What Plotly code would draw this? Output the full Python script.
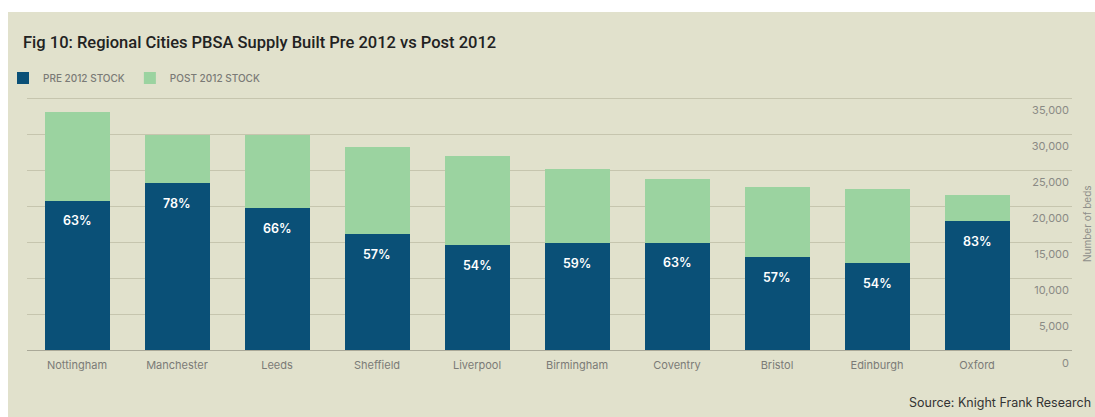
import plotly.graph_objects as go

# ---- data ----
cities = ["Nottingham", "Manchester", "Leeds", "Sheffield", "Liverpool",
          "Birmingham", "Coventry", "Bristol", "Edinburgh", "Oxford"]
pre_2012_stock = [20800, 23200, 19700, 16100, 14600, 14850, 14900, 12930, 12100, 17930]
post_2012_stock = [12300, 6700, 10200, 12100, 12400, 10350, 8850, 9770, 10350, 3670]
pre_share_pct = [63, 78, 66, 57, 54, 59, 63, 57, 54, 83]
y_tick_values = [0, 5000, 10000, 15000, 20000, 25000, 30000, 35000]
y_tick_labels = ["0", "5,000", "10,000", "15,000", "20,000", "25,000", "30,000", "35,000"]

# ---- styling ----
BG = "#e1e1cc"
PRE_C = "#0a5077"
POST_C = "#9bd3a0"
GRID_C = "#c6c5ae"
FONT = "Inter"
TFONT = "Roboto"
TICK_C = "#8a8a85"

W, H = 1095, 417
ML, MR, MT, MB = 27, 23, 97, 67
PW = W - ML - MR
PH = H - MT - MB

fig = go.Figure()
fig.add_trace(go.Bar(x=cities, y=pre_2012_stock, name="PRE 2012 STOCK",
                     marker=dict(color=PRE_C, line=dict(width=0)), hoverinfo="x+y"))
fig.add_trace(go.Bar(x=cities, y=post_2012_stock, name="POST 2012 STOCK",
                     marker=dict(color=POST_C, line=dict(width=0)), hoverinfo="x+y"))

for c, v, p in zip(cities, pre_2012_stock, pre_share_pct):
    fig.add_annotation(x=c, y=v, yshift=-20, text=f"{p}%", showarrow=False,
                       font=dict(family=FONT, size=12.5, color="white", weight=600),
                       xanchor="center", yanchor="middle")


def px_x(p):
    return (p - ML) / PW


def px_y(p):
    return (H - MB - p) / PH


# the "0" tick label sits below the baseline (inside labels get hidden there)
fig.add_annotation(text=y_tick_labels[0], xref="paper", yref="y", x=1.0, y=y_tick_values[0],
                   yshift=-13, xshift=-1, xanchor="right", yanchor="middle", align="right",
                   showarrow=False, font=dict(family=FONT, size=11, color=TICK_C))

# axis title (rotated), placed to the right of the tick label column
fig.add_annotation(text="Number of beds", xref="paper", yref="paper", x=1.0, xshift=15,
                   y=px_y(224), textangle=-90, xanchor="center", yanchor="middle",
                   showarrow=False, font=dict(family=FONT, size=10, color="#8f8f8a"))

fig.add_annotation(text="Source: Knight Frank Research", xref="paper", yref="paper",
                   x=1.0, xshift=21, y=px_y(402), xanchor="right", yanchor="middle",
                   align="right", showarrow=False,
                   font=dict(family=FONT, size=12.5, color="#333333"))

# white strips at the top and left edge of the image
fig.add_shape(type="rect", xref="paper", yref="paper", layer="above",
              x0=px_x(0), x1=px_x(8), y0=px_y(H), y1=px_y(0),
              fillcolor="white", line=dict(width=0))
fig.add_shape(type="rect", xref="paper", yref="paper", layer="above",
              x0=px_x(0), x1=px_x(W), y0=px_y(12), y1=px_y(0),
              fillcolor="white", line=dict(width=0))

fig.update_layout(
    width=W, height=H, autosize=False,
    margin=dict(l=ML, r=MR, t=MT, b=MB, pad=0, autoexpand=False),
    paper_bgcolor=BG, plot_bgcolor=BG,
    barmode="stack", bargap=0.35,
    font=dict(family=FONT),
    title=dict(text="Fig 10: Regional Cities PBSA Supply Built Pre 2012 vs Post 2012",
               x=23 / W, xanchor="left", y=1 - 42 / H, yanchor="middle",
               font=dict(family=TFONT, size=16.5, color="#222222", weight=500)),
    legend=dict(orientation="h", x=px_x(3), xanchor="left", y=px_y(78), yanchor="middle",
                font=dict(family=FONT, size=10, color="#7a7a76", weight=500),
                bgcolor="rgba(0,0,0,0)", borderwidth=0, itemclick=False, traceorder="normal"),
    showlegend=True,
    xaxis=dict(type="category", range=[-0.5, -0.5 + PW / 100.0], showgrid=False,
               showline=True, linecolor="#aaa998", linewidth=1, ticks="",
               tickfont=dict(family=FONT, size=11, color="#7b7b77"),
               ticklabelstandoff=5, zeroline=False, automargin=False, fixedrange=True),
    yaxis=dict(side="right", range=[0, 35200], tickvals=y_tick_values, ticktext=y_tick_labels,
               ticklabelposition="inside", ticklabelshift=12, ticks="",
               showgrid=True, gridcolor=GRID_C, gridwidth=1, zeroline=False, showline=False,
               tickfont=dict(family=FONT, size=11, color=TICK_C),
               automargin=False, fixedrange=True),
)

fig.write_html("out.html", config={"displayModeBar": False})
